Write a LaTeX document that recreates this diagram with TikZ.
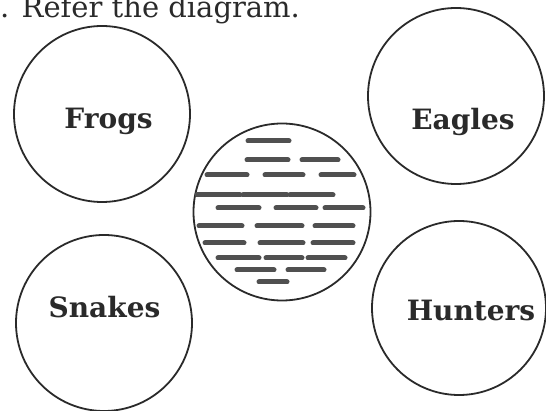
\documentclass[tikz,border=0pt]{standalone}
\usepackage{fontspec}
\setmainfont{DejaVu Serif}
\definecolor{ink}{HTML}{2A2A2A}
\definecolor{smudge}{HTML}{505050}
\begin{document}
\begin{tikzpicture}[x=1pt,y=-1pt,
  ring/.style={draw=ink,line width=1.8pt,circle,inner sep=0pt},
  lbl/.style={anchor=base,inner sep=0pt,text=ink,font=\fontsize{28}{30}\selectfont\bfseries},
  blot/.style={draw=smudge,line width=5pt,line cap=round}]
\useasboundingbox (0,0) rectangle (546,411);
\node[anchor=base west,inner sep=0pt,text=ink,font=\fontsize{29}{32}\selectfont] (title) at (0,18) {. Refer the diagram.};
% circles
\node[ring,minimum size=176pt] (frogs) at (102,114) {};
\node[ring,minimum size=176pt] (eagles) at (456,96) {};
\node[ring,minimum size=176pt] (snakes) at (104,323) {};
\node[ring,minimum size=174pt] (hunters) at (459,308) {};
\node[ring,minimum size=177pt] (pond) at (282,212) {};
% labels
\node[lbl] (tfrogs) at (108.5,129) {Frogs};
\node[lbl] (teagles) at (463,130) {Eagles};
\node[lbl] (tsnakes) at (104.5,318) {Snakes};
\node[lbl] (thunters) at (471,321) {Hunters};
% smudged text inside the central circle
\foreach \a/\b/\y in {248/289/141,
  247/288/160, 302/338/160,
  207/247/175, 265/303/175, 321/354/175,
  197/240/195, 243/287/195, 290/333/195,
  218/259/208, 276/316/208, 325/363/208,
  199/242/226, 257/302/226, 315/353/226,
  205/244/243, 260/303/243, 313/353/243,
  218/259/258, 266/302/258, 308/345/258,
  237/274/270, 288/324/270,
  259/287/282}
  \draw[blot] (\a,\y) -- (\b,\y);
\end{tikzpicture}
\end{document}
